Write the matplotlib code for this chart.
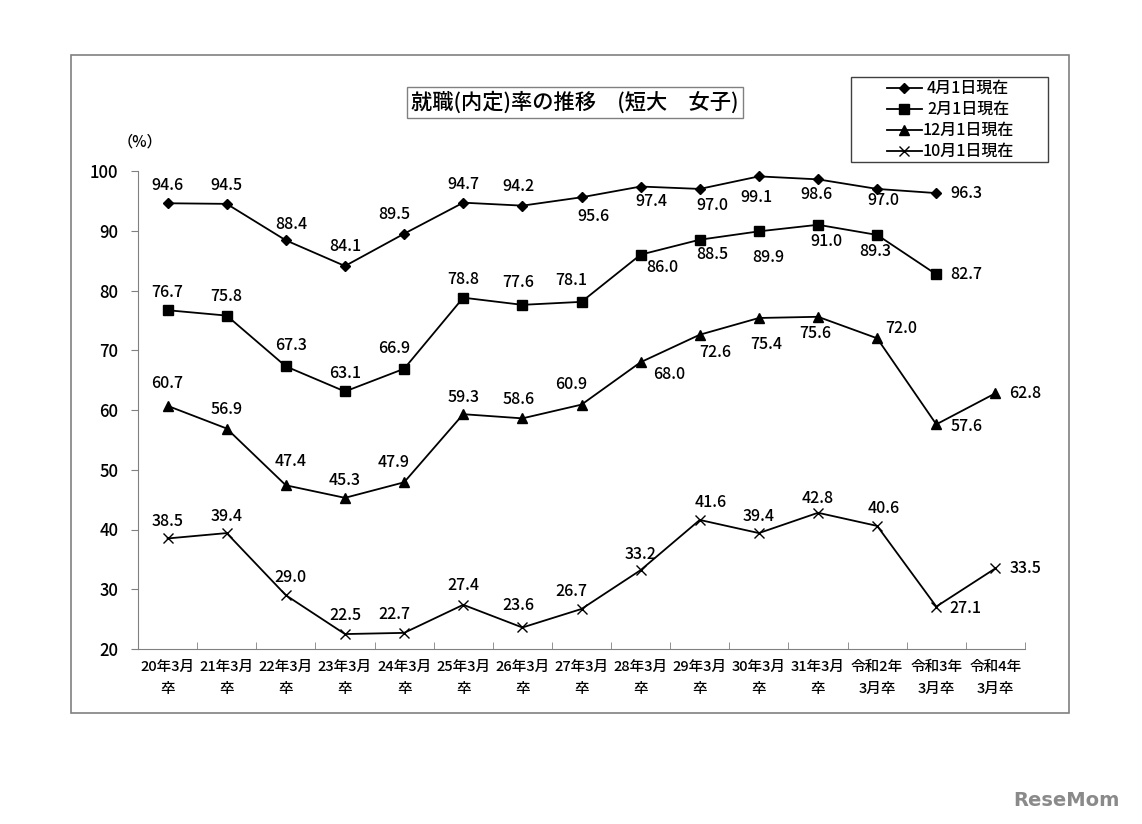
import numpy as np
import matplotlib
matplotlib.use('Agg')
import matplotlib.pyplot as plt
from matplotlib.lines import Line2D
from matplotlib.patches import Rectangle

plt.rcParams['font.family'] = ['Noto Sans CJK JP', 'DejaVu Sans']
plt.rcParams['font.weight'] = 'medium'

# Data
categories = ['20年3月\n卒', '21年3月\n卒', '22年3月\n卒', '23年3月\n卒', '24年3月\n卒',
              '25年3月\n卒', '26年3月\n卒', '27年3月\n卒', '28年3月\n卒', '29年3月\n卒',
              '30年3月\n卒', '31年3月\n卒', '令和2年\n3月卒', '令和3年\n3月卒', '令和4年\n3月卒']
apr1 = [94.6, 94.5, 88.4, 84.1, 89.5, 94.7, 94.2, 95.6, 97.4, 97.0, 99.1, 98.6, 97.0, 96.3, np.nan]
feb1 = [76.7, 75.8, 67.3, 63.1, 66.9, 78.8, 77.6, 78.1, 86.0, 88.5, 89.9, 91.0, 89.3, 82.7, np.nan]
dec1 = [60.7, 56.9, 47.4, 45.3, 47.9, 59.3, 58.6, 60.9, 68.0, 72.6, 75.4, 75.6, 72.0, 57.6, 62.8]
oct1 = [38.5, 39.4, 29.0, 22.5, 22.7, 27.4, 23.6, 26.7, 33.2, 41.6, 39.4, 42.8, 40.6, 27.1, 33.5]
series_names = ['4月1日現在', '2月1日現在', '12月1日現在', '10月1日現在']

# label offsets in pixels (dx, dy; dy positive = downward)
apr_off = [(0, -18), (0, -18), (5, -16), (0, -20), (-10, -19), (0, -18), (-4, -19), (12, 19),
           (11, 15), (13, 17), (-2, 21), (-2, 15), (6, 12), (30, 0)]
feb_off = [(0, -18), (0, -19), (5, -21), (0, -18), (-10, -20), (0, -18), (-4, -22), (-10, -21),
           (22, 13), (13, 15), (9, 26), (8, 17), (-2, 17), (30, 0)]
dec_off = [(0, -22), (0, -19), (5, -24), (0, -17), (-10, -20), (0, -17), (-4, -19), (-10, -20),
           (29, 12), (15, 18), (7, 27), (-3, 17), (24, -10), (30, 2), (30, 0)]
oct_off = [(0, -17), (0, -17), (5, -18), (0, -19), (-10, -18), (0, -19), (-4, -22), (-10, -17),
           (0, -16), (11, -17), (0, -17), (0, -14), (7, -17), (29, 2), (30, 0)]

W, H = 1142, 824
fig = plt.figure(figsize=(W / 100, H / 100), dpi=100)
fig.patch.set_facecolor('white')

# outer frame
fig.add_artist(Rectangle((70.5 / W, 1 - 713 / H), (1069 - 70.5) / W, (713 - 55) / H,
                         transform=fig.transFigure, fill=False, edgecolor='#808080', lw=1.2))

ax = fig.add_axes([138 / W, 1 - 649 / H, (1025 - 138) / W, (649 - 171) / H])
x = np.arange(len(categories))

styles = [dict(marker='D', markersize=5.5), dict(marker='s', markersize=6.5),
          dict(marker='^', markersize=7), dict(marker='x', markersize=7, markeredgewidth=1)]
all_vals = [apr1, feb1, dec1, oct1]
all_offs = [apr_off, feb_off, dec_off, oct_off]

for vals, offs, st in zip(all_vals, all_offs, styles):
    ax.plot(x, vals, color='black', lw=1.3, markerfacecolor='black', markeredgecolor='black',
            clip_on=False, **st)
    for i, (v, off) in enumerate(zip(vals, offs)):
        if np.isnan(v):
            continue
        ax.annotate(f'{v:.1f}', (x[i], v), xytext=(off[0], -off[1]), textcoords='offset pixels',
                    ha='center', va='center', fontsize=11.5)

ax.set_xlim(-0.5, len(categories) - 0.5)
ax.set_ylim(20, 100)
ax.set_yticks(range(20, 101, 10))
ax.set_xticks(x)
ax.set_xticklabels(categories, fontsize=10.5, linespacing=1.7)
ax.set_xticks(np.arange(-0.5, len(categories), 1), minor=True)
ax.tick_params(axis='x', which='major', length=0, pad=8)
ax.tick_params(axis='x', which='minor', length=5, direction='in', color='#808080')
ax.tick_params(axis='y', length=5, direction='out', color='#808080', labelsize=12, pad=9)

for s in ['top', 'right']:
    ax.spines[s].set_visible(False)
for s in ['left', 'bottom']:
    ax.spines[s].set_color('#808080')

# unit
fig.text(140 / W, 1 - 142 / H, '（%）', ha='center', va='center', fontsize=11)

# title
fig.text(574.5 / W, 1 - 102.5 / H, '就職(内定)率の推移　(短大　女子)', ha='center', va='center',
         fontsize=15.3, bbox=dict(boxstyle='square,pad=0.2', facecolor='white', edgecolor='#808080', lw=1))

# legend box
fig.add_artist(Rectangle((851 / W, 1 - 162 / H), (1048 - 851) / W, (162 - 77) / H,
                         transform=fig.transFigure, fill=True, facecolor='white',
                         edgecolor='#404040', lw=1))
rows = [88, 109, 130, 151]
for name, st, ry in zip(series_names, styles, rows):
    fig.add_artist(Line2D([887 / W, 904.5 / W, 922 / W], [1 - ry / H] * 3, transform=fig.transFigure,
                          color='black', lw=1.3, markerfacecolor='black', markeredgecolor='black',
                          markevery=[1], **st))
    fig.text(968 / W, 1 - ry / H, name, ha='center', va='center', fontsize=11.5)

# watermark
fig.text(1066 / W, 1 - 800 / H, 'ReseMom', ha='center', va='center', fontsize=14,
         fontweight='bold', color='#8a8a8a', family=['DejaVu Sans'])

fig.savefig('out.png', dpi=100)
